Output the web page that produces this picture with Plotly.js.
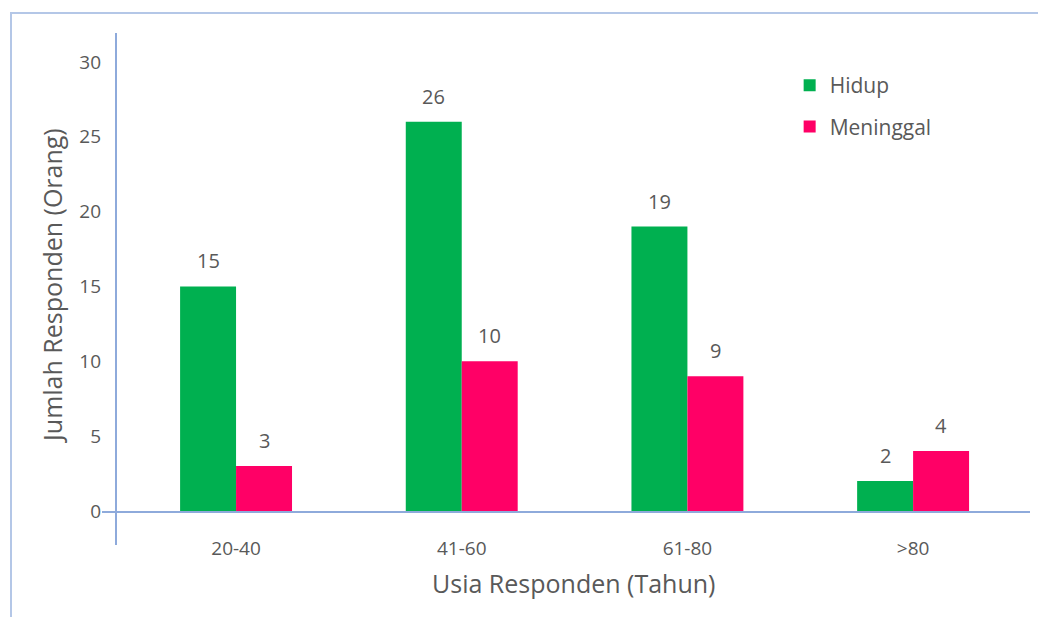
<!DOCTYPE html>
<html>
<head>
<meta charset="utf-8">
<script src="https://cdn.plot.ly/plotly-3.0.1.min.js"></script>
<style>
  html, body { margin: 0; padding: 0; background: #fff; }
  #chart { width: 1038px; height: 617px; }
  #frame { position: absolute; left: 10px; top: 12px; width: 1040px; height: 620px;
           border-top: 2px solid #b4c7e7; border-left: 2px solid #b4c7e7; pointer-events: none; }
</style>
</head>
<body>
<div id="chart"></div>
<div id="frame"></div>
<script>
const categories = ["20-40", "41-60", "61-80", ">80"];
const hidup = [15, 26, 19, 2];
const meninggal = [3, 10, 9, 4];
const yTicks = [0, 5, 10, 15, 20, 25, 30];
const xTitle = "Usia Responden (Tahun)";
const yTitle = "Jumlah Responden (Orang)";

const textColor = "#595959";
const font = "Open Sans, DejaVu Sans, sans-serif";

const traces = [
  {
    type: "bar", name: "Hidup", x: categories, y: hidup,
    marker: { color: "#00b050" },
    legendgroup: "a"
  },
  {
    type: "bar", name: "Meninggal", x: categories, y: meninggal,
    marker: { color: "#ff0066" },
    legendgroup: "b"
  }
];

// value labels above each bar, built from the data arrays
const anns = [];
[[hidup, -28], [meninggal, 28]].forEach(([vals, dx]) => {
  vals.forEach((v, i) => {
    anns.push({
      x: categories[i], y: v, xref: "x", yref: "y",
      text: String(v), showarrow: false,
      xanchor: "center", yanchor: "bottom", xshift: dx, yshift: 10,
      font: { size: 20, color: textColor, family: font }
    });
  });
});

// axis titles
anns.push({
  xref: "paper", yref: "paper", x: 0.5086, y: -0.1506,
  xanchor: "center", yanchor: "middle", showarrow: false,
  text: xTitle, font: { size: 25, color: textColor, family: font }
});
anns.push({
  xref: "paper", yref: "paper", x: -0.0539, y: 0.473,
  xanchor: "center", yanchor: "middle", showarrow: false, textangle: -90,
  text: yTitle, font: { size: 25, color: textColor, family: font }
});

const layout = {
  width: 1038, height: 617,
  margin: { l: 102, r: 8, t: 33, b: 106 },
  paper_bgcolor: "#ffffff", plot_bgcolor: "#ffffff",
  font: { family: font, color: textColor },
  barmode: "group", bargap: 0.504, bargroupgap: 0,
  showlegend: true,
  legend: {
    x: 0.741, y: 0.933, xanchor: "left", yanchor: "top",
    font: { size: 21, color: textColor, family: font },
    tracegroupgap: 11, traceorder: "grouped", bgcolor: "rgba(0,0,0,0)",
    itemwidth: 30
  },
  xaxis: {
    type: "category", range: [-0.594, 3.518],
    showline: true, linecolor: "#8eaadb", linewidth: 2,
    showgrid: false, zeroline: false, ticks: "",
    ticklabelstandoff: 19,
    tickfont: { size: 19, color: textColor, family: font },
    fixedrange: true
  },
  yaxis: {
    range: [0, 31.93],
    tickvals: yTicks, ticktext: yTicks.map(String),
    showline: false, showgrid: false, zeroline: false, ticks: "",
    tickfont: { size: 19, color: textColor, family: font },
    fixedrange: true
  },
  annotations: anns,
  shapes: [
    { type: "line", xref: "paper", yref: "paper",
      x0: 14 / 928, x1: 14 / 928, y0: -34 / 478, y1: 1,
      line: { color: "#8eaadb", width: 2 } }
  ]
};

Plotly.newPlot("chart", traces, layout, { displayModeBar: false, staticPlot: true });
</script>
</body>
</html>
